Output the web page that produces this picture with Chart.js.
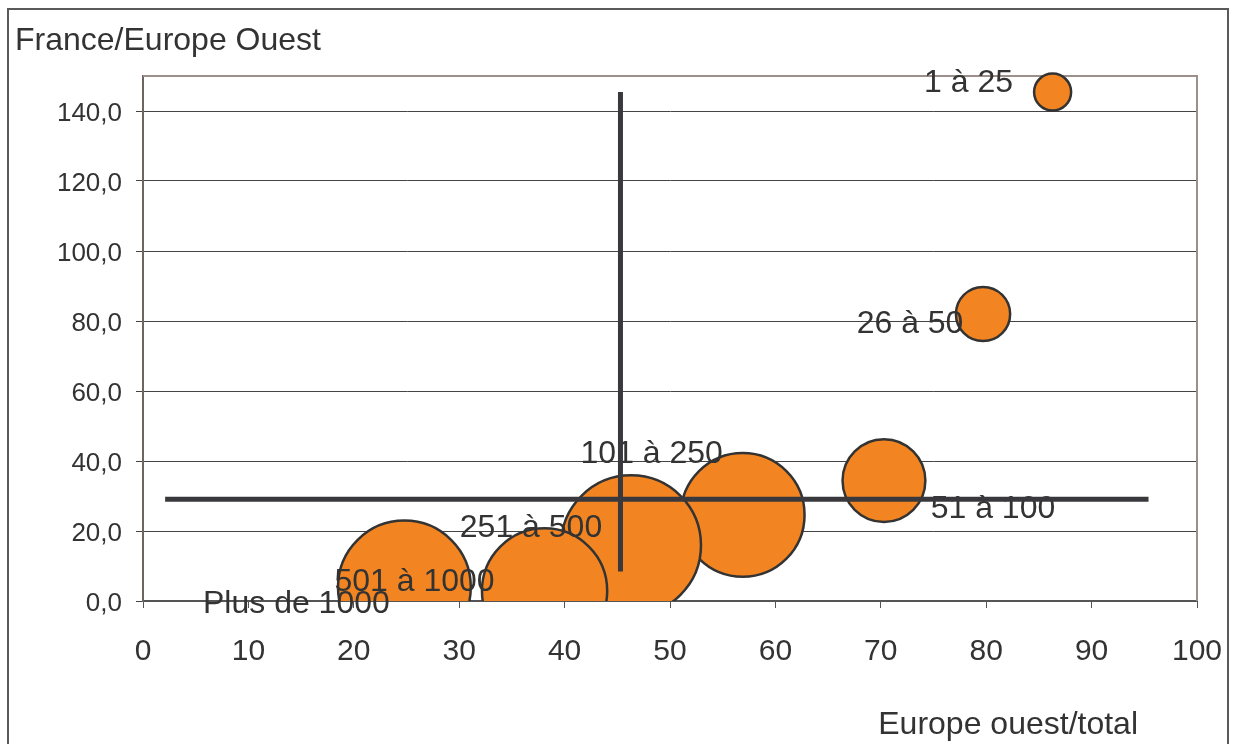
<!DOCTYPE html>
<html lang="fr">
<head>
<meta charset="utf-8">
<title>France/Europe Ouest</title>
<script src="https://cdn.jsdelivr.net/npm/chart.js@4/dist/chart.umd.min.js"></script>
<style>
  html, body { margin: 0; padding: 0; background: #fff; }
  canvas { display: block; }
</style>
</head>
<body>
<canvas id="bubbleChart" width="1234" height="744"></canvas>
<script>
// tranches d'effectif
const categories = ['1 à 25', '26 à 50', '51 à 100', '101 à 250', '251 à 500', '501 à 1000', 'Plus de 1000'];
const europeOuestTotal = [86.3, 79.7, 70.3, 56.9, 46.3, 38.1, 24.8];
const franceEuropeOuest = [145.4, 82.0, 34.4, 24.6, 15.9, 2.9, 4.0];
const poids = [7, 15, 35, 78, 100, 80, 90];

// repères (moyennes)
const repereVertical = [{ x: 45.3, y: 8.4 }, { x: 45.3, y: 145.4 }];
const repereHorizontal = [{ x: 2.1, y: 29.1 }, { x: 95.4, y: 29.1 }];

const xTickValues = [0, 10, 20, 30, 40, 50, 60, 70, 80, 90, 100];
const yTickValues = [0, 20, 40, 60, 80, 100, 120, 140];

const FONT = '"Liberation Sans", Arial, Helvetica, sans-serif';
const TEXT = '#333333';
const MAX_RADIUS = 70;

// décalage des étiquettes par rapport au centre des bulles (px)
const labelOffsets = [[-84, -9], [-73, 10], [109, 29], [-91, -61], [-100, -17], [-130, -9], [-108, 17]];

const bubbles = categories.map((c, i) => ({
  x: europeOuestTotal[i],
  y: franceEuropeOuest[i],
  r: MAX_RADIUS * Math.sqrt(poids[i] / 100)
}));

const framePlugin = {
  id: 'frame',
  beforeDraw(chart) {
    const ctx = chart.ctx;
    ctx.save();
    ctx.fillStyle = '#fff';
    ctx.fillRect(0, 0, chart.width, chart.height);
    ctx.strokeStyle = '#5a5a5a';
    ctx.lineWidth = 2;
    ctx.strokeRect(8, 9, 1220, 800);
    ctx.restore();
  },
  beforeDatasetsDraw(chart) {
    const { ctx, chartArea: a } = chart;
    ctx.save();
    ctx.strokeStyle = '#9b908c';
    ctx.lineWidth = 2;
    ctx.beginPath();
    ctx.moveTo(a.left, a.top);
    ctx.lineTo(a.right, a.top);
    ctx.lineTo(a.right, a.bottom);
    ctx.stroke();
    ctx.restore();
  },
  afterDatasetDraw(chart, args) {
    if (args.index !== 0) return;
    const ctx = chart.ctx;
    const meta = chart.getDatasetMeta(0);
    ctx.save();
    ctx.font = '32px ' + FONT;
    ctx.fillStyle = TEXT;
    ctx.textAlign = 'center';
    ctx.textBaseline = 'middle';
    meta.data.forEach((el, i) => {
      const off = labelOffsets[i];
      ctx.fillText(categories[i], el.x + off[0], el.y + off[1]);
    });
    ctx.restore();
  },
  afterDraw(chart) {
    const ctx = chart.ctx;
    ctx.save();
    ctx.font = '32px ' + FONT;
    ctx.fillStyle = TEXT;
    ctx.textBaseline = 'alphabetic';
    ctx.textAlign = 'left';
    ctx.fillText('France/Europe Ouest', 15, 50);
    ctx.textAlign = 'right';
    ctx.fillText('Europe ouest/total', 1138, 734);
    ctx.restore();
  }
};

new Chart(document.getElementById('bubbleChart'), {
  type: 'bubble',
  data: {
    datasets: [
      {
        data: bubbles,
        backgroundColor: '#F28522',
        borderColor: '#333333',
        borderWidth: 2.5,
        order: 1,
        clip: { left: false, top: false, right: false, bottom: 0 }
      },
      {
        type: 'line',
        data: repereVertical,
        borderColor: '#38383d',
        borderWidth: 5,
        pointRadius: 0,
        fill: false,
        order: 0,
        clip: false
      },
      {
        type: 'line',
        data: repereHorizontal,
        borderColor: '#38383d',
        borderWidth: 5,
        pointRadius: 0,
        fill: false,
        order: 0,
        clip: false
      }
    ]
  },
  options: {
    responsive: false,
    animation: false,
    events: [],
    layout: { autoPadding: false, padding: { left: 0, top: 76, right: 37, bottom: 0 } },
    plugins: {
      legend: { display: false },
      tooltip: { enabled: false }
    },
    scales: {
      x: {
        type: 'linear',
        min: 0,
        max: 100,
        afterBuildTicks: s => { s.ticks = xTickValues.map(v => ({ value: v })); },
        afterFit: s => { s.height = 143; s.paddingLeft = 0; s.paddingRight = 0; },
        ticks: {
          color: TEXT,
          font: { family: FONT, size: 30 },
          padding: 26,
          maxRotation: 0
        },
        grid: {
          drawOnChartArea: false,
          color: '#555',
          tickLength: 7
        },
        border: { color: '#555', width: 2 }
      },
      y: {
        type: 'linear',
        min: 0,
        max: 150,
        afterBuildTicks: s => { s.ticks = yTickValues.map(v => ({ value: v })); },
        afterFit: s => { s.width = 143; s.paddingTop = 0; s.paddingBottom = 0; },
        ticks: {
          color: TEXT,
          font: { family: FONT, size: 26 },
          padding: 14,
          labelOffset: 3,
          callback: v => v.toFixed(1).replace('.', ',')
        },
        grid: {
          color: '#444',
          lineWidth: 1,
          tickLength: 7
        },
        border: { color: '#6e6462', width: 2 }
      }
    }
  },
  plugins: [framePlugin]
});
</script>
</body>
</html>
